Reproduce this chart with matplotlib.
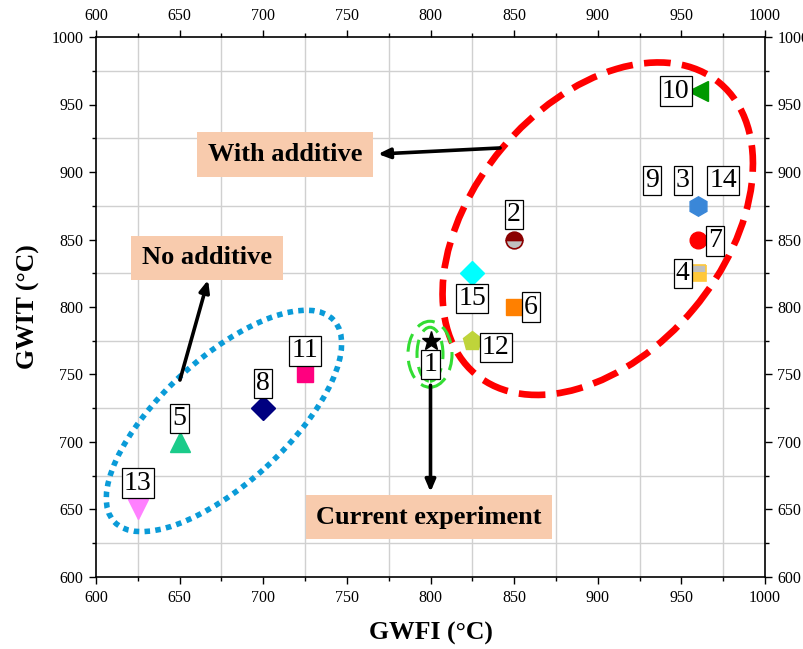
import matplotlib
matplotlib.use("Agg")
import matplotlib.pyplot as plt
from matplotlib.patches import Ellipse
from matplotlib import transforms
from matplotlib.ticker import MultipleLocator

plt.rcParams['font.family'] = ['Liberation Serif', 'DejaVu Serif']

# ---- data ----
labels = ['1', '2', '3', '4', '5', '6', '7', '8', '10', '11', '12', '13', '15']
gwfi = [800, 850, 960, 960, 650, 850, 960, 700, 960, 725, 825, 625, 825]
gwit = [775, 850, 875, 825, 700, 800, 850, 725, 960, 750, 775, 650, 825]
markers = ['*', 'o', 'h', 's', '^', 's', 'o', 'D', '<', 's', 'p', 'v', 'D']
face = ['black', '#8B0000', '#3A87D8', '#C0C0C0', '#1BCB8A', '#FF8000', '#FF0000',
        '#000080', '#009900', '#FF007F', '#BFD43A', '#FF80FF', '#00FFFF']
face_alt = [None, '#C0C0C0', None, '#FFC83A', None, None, None, None, None, None, None, None, None]
sizes = [14, 12, 14, 12, 14, 11, 12, 12, 14, 11, 14, 14, 12]
# label offsets (points) from each point
label_off = [(0, -17), (0, 18), (-11, 18), (-11, 0), (0, 17), (12, 0), (12, -1),
             (0, 18), (-16, 0), (0, 17), (17, -5), (0, 19), (0, -18)]
extra_labels = [('9', 960, 875, (-33, 18)), ('14', 960, 875, (18, 18))]

fig = plt.figure(figsize=(8.04, 6.49), dpi=100)
ax = fig.add_axes([96/804, 1-577/649, 669/804, 540/649])
ax.set_xlim(600, 1000)
ax.set_ylim(600, 1000)

ax.xaxis.set_major_locator(MultipleLocator(50))
ax.xaxis.set_minor_locator(MultipleLocator(25))
ax.yaxis.set_major_locator(MultipleLocator(50))
ax.yaxis.set_minor_locator(MultipleLocator(25))
ax.grid(True, which='minor', color='#D0D0D0', lw=1.0)
ax.set_axisbelow(True)
ax.tick_params(which='both', direction='out', top=True, right=True,
               labeltop=True, labelright=True, labelsize=11.5, width=1.0, pad=4)
ax.tick_params(which='major', length=5)
ax.tick_params(which='minor', length=3)
for s in ax.spines.values():
    s.set_linewidth(1.2)

ax.set_xlabel('GWFI (°C)', fontsize=18.5, fontweight='bold', labelpad=12)
ax.set_ylabel('GWIT (°C)', fontsize=18.5, fontweight='bold', labelpad=8)

# ellipses (sizes in inches, centred on data points)
def ell(cx, cy, w, h, ang, **kw):
    tr = fig.dpi_scale_trans + transforms.ScaledTranslation(cx, cy, ax.transData)
    e = Ellipse((0, 0), w, h, angle=ang, transform=tr, fill=False, **kw)
    ax.add_patch(e)

ell(900, 858, 3.80, 2.50, 50, edgecolor='#FF0000', lw=4.8,
    linestyle=(0, (4.0, 1.7)), zorder=2)
ell(676.5, 715.6, 2.98, 1.25, 42.5, edgecolor='#0A9BD8', lw=4.0,
    linestyle=(0, (1.0, 0.95)), zorder=2)
ell(799.7, 765, 0.44, 0.66, 0, edgecolor='#33DD33', lw=2.2,
    linestyle=(0, (6, 3)), zorder=2)
ell(799.7, 765, 0.26, 0.54, 0, edgecolor='#33DD33', lw=2.2,
    linestyle=(0, (6, 3)), zorder=2)

# arrows + annotation boxes
box = dict(boxstyle='square,pad=0.4', fc='#F8CBAD', ec='none')
arrow = dict(arrowstyle='-|>,head_length=0.7,head_width=0.3', color='black', lw=2.6,
             shrinkA=0, shrinkB=0)
ax.annotate('', xy=(768.6, 913.3), xytext=(841.6, 917.8), arrowprops=arrow, zorder=3)
ax.annotate('', xy=(667, 820), xytext=(650.2, 745.9), arrowprops=arrow, zorder=3)
ax.annotate('', xy=(800, 663), xytext=(800, 742), arrowprops=arrow, zorder=3)
ax.text(713, 913, 'With additive', fontsize=19, fontweight='bold', ha='center',
        va='center', bbox=box, zorder=4)
ax.text(666.4, 836.3, 'No additive', fontsize=19, fontweight='bold', ha='center',
        va='center', bbox=box, zorder=4)
ax.text(799, 644.4, 'Current experiment', fontsize=19, fontweight='bold', ha='center',
        va='center', bbox=box, zorder=4)

# points
for i in range(len(labels)):
    if face_alt[i] is not None:
        ec = face[i] if labels[i] == '2' else '#FFC83A'
        ax.plot(gwfi[i], gwit[i], marker=markers[i], ms=sizes[i], fillstyle='top',
                markerfacecolor=face[i], markerfacecoloralt=face_alt[i],
                markeredgecolor=ec, mew=1.2, ls='none', zorder=5)
    else:
        ax.plot(gwfi[i], gwit[i], marker=markers[i], ms=sizes[i], color=face[i],
                markeredgecolor=face[i], ls='none', zorder=5)

lbox = dict(boxstyle='square,pad=0.08', fc='white', ec='black', lw=0.9)
for i in range(len(labels)):
    ax.annotate(labels[i], (gwfi[i], gwit[i]), xytext=label_off[i],
                textcoords='offset points', ha='center', va='center',
                fontsize=20, bbox=lbox, zorder=6)
for t, x, y, off in extra_labels:
    ax.annotate(t, (x, y), xytext=off, textcoords='offset points', ha='center',
                va='center', fontsize=20, bbox=lbox, zorder=6)

fig.savefig('out.png', dpi=100)
